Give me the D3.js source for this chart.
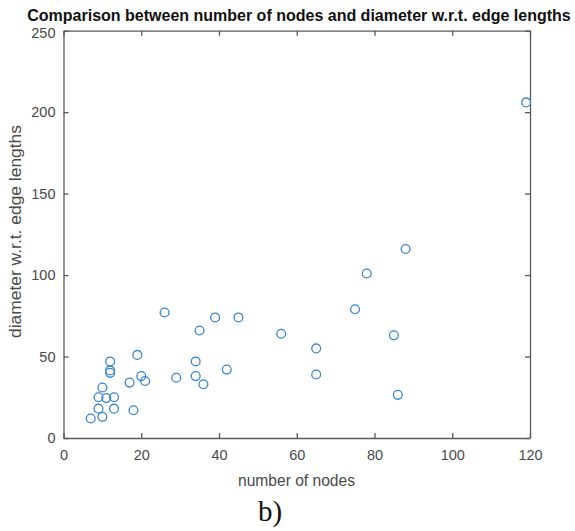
<!DOCTYPE html>
<html><head><meta charset="utf-8">
<script src="https://cdn.jsdelivr.net/npm/d3@7"></script>
<style>body{margin:0;background:#fff;} svg{display:block;}</style>
</head><body>
<svg id="c" width="575" height="531"></svg>
<script>
const nodes = [7,10,9,13,18,9,11,13,10,17,21,20,12,12,12,19,26,29,34,34,36,35,39,42,45,56,65,65,75,78,85,86,88,119];
const diameter = [12,13,18,18,17,25,24.5,25,31,34,35,38,40,41.5,47,51,77,37,38,47,33,66,74,42,74,64,55,39,79,101,63,26.5,116,206];
const xTicks = [0,20,40,60,80,100,120];
const yTicks = [0,50,100,150,200,250];
const title = "Comparison between number of nodes and diameter w.r.t. edge lengths";
const xLabel = "number of nodes";
const yLabel = "diameter w.r.t. edge lengths";
const caption = "b)";

const svg = d3.select("#c");
const L=63.5, R=530, T=30.7, B=438;
const x = d3.scaleLinear().domain([0,120]).range([L,R]);
const y = d3.scaleLinear().domain([0,250]).range([B,T]);
const axisCol = "#5a5a5a", textCol = "#4a4a4a";
const font = "'Liberation Sans', Arial, sans-serif";

const ax = svg.append("g").attr("transform",`translate(0,${B})`)
  .call(d3.axisBottom(x).tickValues(xTicks).tickSize(-5).tickPadding(12).tickSizeOuter(0));
const ay = svg.append("g").attr("transform",`translate(${L},0)`)
  .call(d3.axisLeft(y).tickValues(yTicks).tickSize(-5).tickPadding(8).tickSizeOuter(0));
const axt = svg.append("g").attr("transform",`translate(0,${T})`)
  .call(d3.axisTop(x).tickValues(xTicks).tickSize(-5).tickFormat("").tickSizeOuter(0));
const ayr = svg.append("g").attr("transform",`translate(${R},0)`)
  .call(d3.axisRight(y).tickValues(yTicks).tickSize(-5).tickFormat("").tickSizeOuter(0));
[ax,ay,axt,ayr].forEach(g=>{
  g.selectAll("path,line").attr("stroke",axisCol).attr("stroke-width",1.3);
  g.selectAll("text").attr("fill",textCol).style("font-family",font).style("font-size","14.5px");
});
ay.selectAll(".tick").filter(d=>d===250).select("text").attr("dy","0.45em");

svg.append("g").selectAll("circle").data(nodes.map((n,i)=>[n,diameter[i]])).join("circle")
  .attr("cx",d=>x(d[0])).attr("cy",d=>y(d[1])).attr("r",4.4)
  .attr("fill","none").attr("stroke","#3a86c8").attr("stroke-width",1.3);

svg.append("text").attr("x",299).attr("y",21).attr("text-anchor","middle")
  .style("font-family",font).style("font-weight","bold").style("font-size","16px").attr("fill","#111").text(title);
svg.append("text").attr("x",296.5).attr("y",486).attr("text-anchor","middle")
  .style("font-family",font).style("font-size","15.6px").attr("fill",textCol).text(xLabel);
svg.append("text").attr("transform",`translate(21,231.5) rotate(-90)`).attr("text-anchor","middle")
  .attr("textLength",213).attr("lengthAdjust","spacingAndGlyphs")
  .style("font-family",font).style("font-size","16px").attr("fill",textCol).text(yLabel);
svg.append("text").attr("x",270).attr("y",521).attr("text-anchor","middle")
  .style("font-family","'Liberation Serif','Times New Roman',serif").style("font-size","29px").attr("fill","#111").text(caption);
</script>
</body></html>
